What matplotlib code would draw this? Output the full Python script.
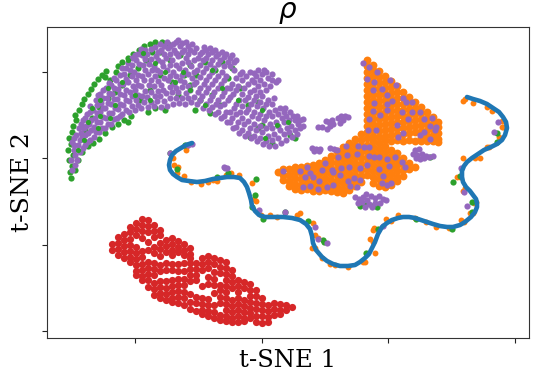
# -*- coding: utf-8 -*-

import numpy as np
import matplotlib
matplotlib.use('Agg')
import matplotlib.pyplot as plt

tick_x = [135, 262, 388, 515]
tick_y = [72, 158, 245, 331]

curve = [(192,143),(186,145),(181,148),(176,151),(172,155),(170,160),(169,165),(170,170),(173,174),(177,177),(182,180),(189,181),
    (197,182),(205,181),(213,179),(220,178),(227,177),(234,177),(240,178),(244,182),(247,187),(249,193),(251,200),(252,206),
    (255,211),(259,215),(265,217),(274,217),(283,217),(292,218),(300,220),(306,224),(310,229),(312,236),(313,243),(316,250),
    (322,257),(327,261),(333,264),(340,266),(348,266),(355,265),(360,262),(365,258),(369,254),(372,248),(375,242),(378,234),
    (382,227),(387,223),(392,220),(398,218),(403,217),(409,217),(415,218),(421,220),(427,222),(433,224),(440,226),(447,227),
    (453,227),(460,225),(465,222),(471,217),(475,212),(477,207),(477,203),(476,199),(473,195),(470,191),(466,187),(463,182),
    (462,177),(462,171),(464,166),(467,162),(472,158),(478,154),(484,150),(491,147),(497,144),(502,140),(505,135),(507,128),
    (506,122),(503,117),(499,112),(493,108),(487,104),(480,101),(473,99),(467,97)]

# orange blob, column x -> y values
orange_blob = {
    278: [172], 283: [169,175,180], 289: [169,175,181,186], 295: [167,172,178,184,189], 301: [167,173,179,185,190],
    307: [166,171,177,183,189], 313: [165,170,176,182,188,191], 319: [163,168,174,180,186,191], 325: [160,166,172,178,184,190],
    331: [156,162,168,174,180,186,191], 337: [151,157,163,169,175,181,187,192], 343: [147,153,159,165,171,177,183,189,193],
    349: [143,149,155,161,167,173,179,185,190], 355: [139,145,151,157,163,169,175,181,186],
    361: [134,140,146,152,158,164,170,176,182],
    367: [60,66,72,78,84,90,96,102,108,114,120,126,132,138,145,151,157,163,169,175],
    373: [65,70,76,82,88,94,100,106,112,118,124,130,136,141,147,153,159,165,171,177,183],
    379: [71,77,83,89,95,101,107,113,119,125,131,137,143,149,155,161,167,173,179,186],
    385: [76,82,88,94,100,106,112,118,124,130,136,140,146,152,158,164,170,176,182,187],
    391: [81,87,93,99,105,111,117,123,129,135,141,150,156,162,168,174,180,185],
    397: [86,92,98,104,110,116,122,128,134,140,153,159,165,171,177,181],
    403: [92,98,104,110,116,122,128,134,141,158,164,170,176],
    409: [97,103,109,115,121,127,133,140,163,169],
    415: [102,108,114,120,126,132,141,167],
    421: [107,113,119,125,131,137,141],
    427: [112,118,124,130,136,141],
    433: [117,123,129,135,141],
    438: [122,127,133,139,142],
}

# red blob, column x -> y values
red_blob = {
    112: [244,250], 118: [237,243,249,255], 124: [234,240,246,252,258], 130: [227,232,239,245,251,257,262],
    136: [223,229,235,247,253,259,265,271,275], 142: [219,225,231,238,251,257,264,270,276,280],
    148: [220,226,232,242,250,262,268,274,280,287], 154: [225,231,237,247,253,263,269,275,283,289,295],
    160: [230,235,243,249,256,265,271,281,287,293,298], 166: [240,246,252,263,270,281,288,294,300],
    172: [238,244,250,255,264,270,280,286,292,298,302], 178: [241,247,252,264,271,279,285,291,297,303],
    184: [244,250,255,263,271,279,285,292,298,305], 190: [248,254,258,263,269,275,281,294,302,309],
    196: [263,269,275,280,297,303,311], 202: [258,264,270,286,298,304,310,314],
    208: [256,262,268,277,284,299,305,311,316], 214: [258,264,272,279,285,293,305,312,318],
    220: [260,267,273,285,290,297,303,315,320], 226: [262,268,274,280,286,292,298,304,310,316,321],
    232: [270,276,282,288,300,306,312,318,322], 238: [280,286,292,298,304,310,316,322],
    244: [282,288,300,306,312,318,321], 250: [284,290,296,302,308,313,318], 256: [290,296,303,309,316,322],
    262: [298,304,310,316,323], 268: [305,311,317,322], 274: [303,309,315], 280: [304,310,314], 286: [305,310], 292: [307],
}

crescent_green = [(71,178),(70,172),(72,166),(69,160),(73,155),(68,150),(71,144),(69,138),(72,132),(73,126),(76,120),(75,115),
    (79,110),(82,104),(84,99),(88,94),(91,89),(94,84),(98,79),(102,75),(106,71),(105,77),(110,80),(116,72),(118,66),(122,62),
    (128,58),(133,54),(139,50),(144,46),(150,44),(155,42),(162,42),(168,44),(75,170),(78,160),(82,152),(88,146),(93,143),
    (99,139),(105,133),(112,127),(118,124),(124,120),(131,116),(128,122),(85,130),(92,118),(99,107),(108,98),(115,92),(122,85),
    (130,75),(138,68),(146,60),(152,52),(160,52),(170,60),(180,55),(190,65),(184,75),(172,82),(160,75),(150,90),(140,100),
    (155,108),(148,112),(165,110),(178,95),(190,85),(196,75),(205,62),(215,70),(222,62),(232,68),(228,78),(212,95),(200,100),
    (195,110),(210,113),(220,105),(240,88),(248,105),(258,102),(262,125),(258,128),(290,135),(295,138),(272,143),(250,137)]

# green that shows through the purple
crescent_green_top = [(183,72),(175,82),(155,63),(143,53),(128,60),(122,82),(108,88),(100,100),(92,108),(88,122),(98,128),(115,105),(135,95),
    (150,100),(165,72),(190,90),(212,70),(222,88),(205,105),(238,100),(262,110),(277,125),(288,122),(265,138),(100,116),(110,118),(84,140),(78,150)]

crescent_purple = [(72,170),(71,160),(74,150),(72,142),(77,160),(78,145),(76,135),(79,128),
    (83,148),(82,137),(84,128),(83,120),(87,142),(88,133),(89,124),(87,114),(90,106),
    (94,137),(94,127),(95,118),(93,110),(96,100),(99,132),(100,122),(100,112),(101,103),(100,94),
    (105,128),(106,118),(105,108),(107,98),(106,88),(111,124),(112,113),(111,104),(112,94),(111,85),
    (117,118),(118,109),(117,99),(118,89),(116,80),(122,114),(123,105),(124,95),(123,84),(124,74),(122,68),
    (129,112),(129,101),(130,92),(128,82),(130,70),(128,63),(135,110),(136,100),(135,90),(136,80),(134,72),(136,60),(135,55),
    (141,108),(142,96),(141,86),(142,76),(143,65),(142,55),(141,49),(148,107),(147,97),(149,85),(148,74),(149,64),(147,54),
    (154,106),(155,96),(154,86),(155,76),(154,66),(156,56),(155,47),(161,107),(160,96),(161,85),(160,72),(162,62),(161,50),(160,44),
    (167,106),(166,93),(168,80),(167,70),(166,58),(168,48),(167,42),(173,104),(172,92),(174,84),(173,72),(172,60),(174,50),(173,44),
    (179,103),(178,92),(180,80),(179,68),(178,56),(180,46),(178,40),(185,104),(186,93),(184,82),(185,70),(186,58),(184,50),(186,42),
    (191,102),(190,90),(192,78),(191,66),(190,50),(192,44),(197,104),(198,92),(196,82),(197,70),(198,58),(196,48),
    (203,108),(202,96),(204,84),(203,72),(202,52),(204,47),(203,60),(209,110),(210,100),(208,88),(209,76),(210,64),(208,54),(210,48),
    (215,114),(216,104),(214,92),(215,80),(214,68),(216,56),(215,50),(221,118),(220,106),(222,96),(221,84),(222,72),(220,60),(222,52),
    (227,122),(226,112),(228,100),(227,88),(226,76),(228,62),(226,54),(233,128),(232,118),(234,108),(233,94),(232,84),(234,70),(232,55),(234,62),
    (239,133),(238,122),(240,112),(239,100),(238,86),(240,74),(245,136),(244,124),(246,112),(245,100),(244,88),(246,76),
    (251,138),(250,128),(252,116),(251,104),(250,92),(252,80),(250,72),(257,141),(256,130),(258,118),(257,106),(256,96),(258,86),(256,76),(258,70),
    (263,144),(262,132),(264,120),(263,108),(262,96),(264,84),(262,74),(264,70),(269,146),(268,136),(270,124),(269,112),(268,100),(270,86),(268,78),(272,74),
    (275,146),(274,134),(276,122),(275,110),(274,98),(276,82),(278,80),(281,143),(280,130),(282,118),(280,108),(286,140),(287,128),(286,116),(285,108),
    (292,137),(291,126),(293,116),(290,112),(297,134),(298,124),(297,116),(303,126),(303,119),(300,128)]

# second pass over the crescent, the points between the first ones
crescent_purple_fill = [(75,165),(75,155),(74,145),(74,138),(80,152),(80,140),(81,133),(81,124),
    (85,145),(85,135),(86,126),(85,118),(90,140),(91,130),(91,120),(90,112),
    (96,132),(97,122),(97,113),(97,105),(98,95),(102,128),(103,117),(103,108),(103,98),(103,90),
    (108,124),(109,113),(108,103),(109,93),(109,83),(114,119),(115,108),(114,99),(114,88),(114,78),
    (120,116),(120,104),(120,94),(120,84),(120,75),(126,110),(126,100),(126,90),(126,79),(126,68),
    (132,106),(132,96),(133,86),(132,76),(132,65),(132,58),(138,105),(138,95),(138,85),(138,75),(139,64),(138,54),
    (144,102),(145,91),(144,80),(145,70),(145,59),(145,50),(151,102),(151,92),(151,80),(152,70),(151,59),(151,49),
    (157,101),(158,91),(158,81),(157,70),(158,60),(158,52),(164,101),(163,90),(164,78),(163,66),(164,54),(164,46),
    (170,98),(170,87),(170,76),(170,65),(170,54),(170,46),(176,98),(176,88),(176,76),(176,65),(176,53),(176,42),
    (182,98),(182,87),(182,75),(182,63),(182,52),(182,43),(188,98),(188,86),(188,74),(188,62),(188,54),(188,46),
    (194,97),(194,84),(194,72),(194,60),(194,52),(200,100),(200,88),(200,77),(200,65),(200,54),(206,104),(206,92),(206,80),(206,68),(206,58),(206,50),
    (212,107),(212,96),(212,84),(212,72),(212,60),(212,52),(218,112),(218,100),(218,88),(218,76),(218,64),(218,54),
    (224,116),(224,104),(224,92),(224,80),(224,66),(224,57),(230,122),(230,112),(230,97),(230,88),(230,66),(230,58),
    (236,127),(236,114),(236,104),(236,90),(236,78),(236,60),(242,130),(242,118),(242,106),(242,94),(242,80),(242,72),
    (248,133),(248,121),(248,109),(248,97),(248,84),(254,136),(254,124),(254,112),(254,100),(254,90),(254,82),(254,73),
    (260,138),(260,126),(260,114),(260,102),(260,92),(260,80),(266,141),(266,128),(266,116),(266,104),(266,90),(266,72),
    (272,140),(272,128),(272,116),(272,104),(272,80),(278,138),(278,126),(278,114),(284,134),(284,122),(284,112),(289,132),(289,120),(295,130),(295,120),(300,120)]

purple_on_orange = [(363,63),(369,67),(377,72),(367,79),(374,82),(390,80),(396,85),(382,89),(373,90),(387,95),(392,101),(374,103),(387,104),
    (403,98),(412,102),(406,102),(387,110),(373,111),(380,115),(402,112),(412,112),(420,112),(408,119),(424,119),(432,118),(436,127),
    (430,126),(435,130),(369,119),(376,130),(368,130),(397,125),(403,133),(398,137),(420,135),(424,132),(430,139),(346,146),(358,146),
    (364,147),(369,147),(347,155),(338,157),(357,154),(369,156),(374,157),(379,157),(387,159),(395,157),(402,162),(405,167),(389,166),
    (379,169),(367,165),(360,168),(349,167),(341,168),(332,170),(322,170),(310,173),(305,177),(313,177),(300,171),(283,171),(307,167),
    (325,163),(340,175),(333,172),(319,181),(310,186),(303,187),(327,187),(318,189),(333,185),(348,181),(354,178),(360,180),(357,187),
    (350,186),(383,176),(382,183),(391,183),(387,185)]

# the small purple islands round the orange blob
purple_islands = [(345,116),(341,116),(348,117),(343,120),(338,118),(332,120),(329,122),(326,121),(322,127),(318,127),(330,126),(327,129),
    (333,124),(340,123),(312,148),(316,149),(320,149),(314,151),(319,151),(330,148),(334,149),(337,150),(415,150),(419,149),(413,154),
    (417,155),(422,154),(426,156),(416,158),(420,159),(424,158),(429,157),(433,156),(355,197),(359,199),(363,197),(366,194),(367,200),
    (371,196),(375,198),(379,196),(383,199),(386,200),(362,202),(369,204),(375,203),(380,203),(365,207),(372,207),(358,203),(224,167),(227,168)]
green_islands = [(430,157),(365,205),(360,206),(372,206),(377,207)]

orange_on_curve = [(186,147),(186,150),(173,158),(174,165),(178,167),(177,173),(184,176),(191,182),(201,184),(208,182),(213,180),(217,181),
    (226,175),(231,173),(239,175),(252,183),(254,199),(256,201),(261,215),(270,215),(277,217),(297,215),(300,213),(313,223),(315,235),(318,238),
    (312,248),(315,248),(322,258),(330,264),(335,265),(348,267),(363,262),(365,262),(375,253),(370,239),(373,242),(373,230),(374,228),(386,219),
    (391,221),(398,215),(415,218),(426,222),(436,227),(449,228),(461,220),(464,222),(470,213),(473,213),(474,203),(476,202),(465,188),(463,191),
    (457,177),(460,177),(463,158),(475,158),(480,158),(487,147),(489,147),(499,137),(502,127),(503,127),(502,121),(492,111),(487,107),(473,103),
    (465,99),(463,101)]
green_on_curve = [(185,145),(170,153),(177,169),(217,177),(228,173),(256,179),(255,195),(252,207),(263,219),(285,212),(308,221),(323,240),(324,242),
    (366,253),(378,229),(416,219),(452,229),(472,212),(472,202),(460,176),(453,182),(497,133),(497,142)]
purple_on_curve = [(192,144),(188,145),(170,153),(225,168),(259,210),(285,212),(315,227),(318,239),(327,243),(467,206),(464,192),(383,226),(498,122),
    (494,132),(461,168)]


def expand(blob):
    return [(x, y) for x, ys in blob.items() for y in ys]


def draw(ax, pts, color, size=20):
    pts = np.array(pts)
    ax.scatter(pts[:, 0], pts[:, 1], s=size, color=color, linewidths=0)


if __name__ == '__main__':
    plt.rcParams['font.family'] = 'DejaVu Serif'
    fig = plt.figure(figsize=(5.38, 3.72), dpi=100)
    ax = fig.add_axes([46.5/538, 1-337.5/372, (528.5-46.5)/538, (337.5-26.5)/372])

    line = np.array(curve)
    ax.plot(line[:, 0], line[:, 1], color='tab:blue', lw=3.3, solid_capstyle='round', solid_joinstyle='round')

    draw(ax, expand(orange_blob), 'tab:orange', 32)
    draw(ax, orange_on_curve, 'tab:orange', 18)
    draw(ax, crescent_green + green_islands + green_on_curve, 'tab:green')
    draw(ax, expand(red_blob), 'tab:red', 27)
    draw(ax, crescent_purple + crescent_purple_fill + purple_on_orange + purple_islands + purple_on_curve, 'tab:purple')
    draw(ax, crescent_green_top, 'tab:green', 14)

    ax.set_xlim(46.5, 528.5)
    ax.set_ylim(337.5, 26.5)
    ax.set_xticks(tick_x)
    ax.set_yticks(tick_y)
    ax.set_xticklabels([])
    ax.set_yticklabels([])
    ax.tick_params(color='#222222', length=3.5, width=0.8)
    for s in ax.spines.values():
        s.set_color('#333333')

    ax.set_xlabel('t-SNE 1', fontsize=17.5, labelpad=1)
    ax.set_ylabel('t-SNE 2', fontsize=18, labelpad=2)
    ax.set_title(r'$\rho$', fontsize=20, pad=3, math_fontfamily='dejavusans')

    fig.savefig('out.png', dpi=100)
